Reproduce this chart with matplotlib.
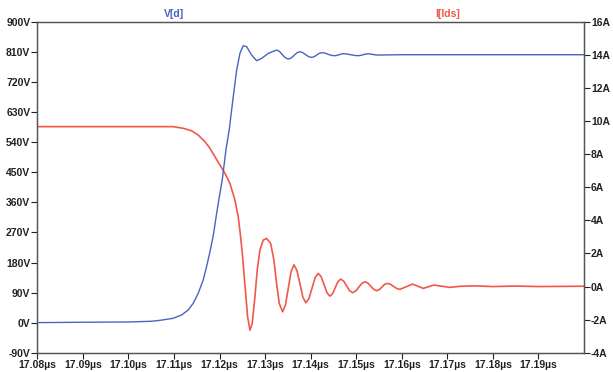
import numpy as np
import matplotlib
matplotlib.use("Agg")
import matplotlib.pyplot as plt
from matplotlib.ticker import FuncFormatter, MultipleLocator

plt.rcParams["font.family"] = ["Liberation Sans", "DejaVu Sans"]

# drain voltage V(d), time in µs
t_vd = [17.08000, 17.08900, 17.10000, 17.10500, 17.10700, 17.10984, 17.11169,
        17.11314, 17.11423, 17.11533, 17.11643, 17.11717, 17.11790, 17.11862,
        17.11937, 17.12009, 17.12060, 17.12141, 17.12213, 17.12301, 17.12376,
        17.12448, 17.12521, 17.12595, 17.12705, 17.12815, 17.12924, 17.13069,
        17.13253, 17.13317, 17.13380, 17.13444, 17.13508, 17.13572, 17.13637,
        17.13701, 17.13765, 17.13829, 17.13894, 17.13958, 17.14022, 17.14077,
        17.14131, 17.14186, 17.14241, 17.14314, 17.14387, 17.14460, 17.14533,
        17.14579, 17.14624, 17.14670, 17.14715, 17.14800, 17.14880, 17.14960,
        17.15044, 17.15100, 17.15154, 17.15210, 17.15264, 17.15448, 17.16000,
        17.20000]
vd = [0, 1, 2, 4, 7, 13, 23,
      38, 58, 88, 128, 168, 212, 260,
      327, 387, 427, 517, 577, 676, 756,
      806, 829, 826, 801, 784, 791, 806,
      816, 812, 802, 793, 789, 792, 800,
      808, 811, 808, 802, 796, 794, 796,
      801, 806, 808, 807, 803, 800, 799,
      800, 802, 804, 805, 804, 802, 800,
      799, 800, 802, 804, 805, 801, 802,
      802]

# drain-source current I(Ids)
t_ids = [17.08000, 17.10984, 17.11204, 17.11388, 17.11533, 17.11680, 17.11790,
         17.11900, 17.12009, 17.12119, 17.12229, 17.12338, 17.12411, 17.12463,
         17.12507, 17.12543, 17.12580, 17.12617, 17.12668, 17.12718, 17.12777,
         17.12828, 17.12887, 17.12959, 17.13034, 17.13122, 17.13194, 17.13253,
         17.13311, 17.13385, 17.13447, 17.13509, 17.13571, 17.13633, 17.13699,
         17.13765, 17.13830, 17.13896, 17.13964, 17.14031, 17.14099, 17.14166,
         17.14230, 17.14295, 17.14359, 17.14423, 17.14482, 17.14540, 17.14599,
         17.14658, 17.14724, 17.14790, 17.14855, 17.14921, 17.14989, 17.15056,
         17.15124, 17.15191, 17.15255, 17.15320, 17.15384, 17.15448, 17.15506,
         17.15565, 17.15623, 17.15681, 17.15751, 17.15820, 17.15890, 17.15959,
         17.16098, 17.16238, 17.16354, 17.16471, 17.16589, 17.16705, 17.16881,
         17.17056, 17.17300, 17.17600, 17.18000, 17.18500, 17.19000, 17.20000]
ids = [9.67, 9.67, 9.57, 9.42, 9.16, 8.76, 8.36,
       7.85, 7.35, 6.85, 6.24, 5.23, 4.22, 3.01,
       1.80, 0.59, -0.62, -1.83, -2.64, -2.23, -0.62,
       1.00, 2.21, 2.81, 2.91, 2.61, 1.60, 0.19,
       -1.02, -1.53, -1.12, -0.11, 0.90, 1.31, 0.98,
       0.17, -0.65, -0.98, -0.72, -0.09, 0.54, 0.80,
       0.60, 0.11, -0.38, -0.58, -0.43, -0.07, 0.30,
       0.45, 0.33, 0.04, -0.25, -0.37, -0.27, -0.04,
       0.19, 0.29, 0.21, 0.02, -0.17, -0.25, -0.19,
       -0.03, 0.13, 0.19, 0.14, 0.01, -0.12, -0.17,
       -0.01, 0.15, 0.02, -0.11, -0.01, 0.09, 0.02,
       -0.05, 0.02, 0.04, 0.00, 0.03, 0.00, 0.02]

blue = "#4a63c0"
red = "#f0584a"

fig = plt.figure(figsize=(6.13, 3.72), dpi=100)
ax = fig.add_axes([0.0608, 0.0519, 0.8919, 0.889])
ax2 = ax.twinx()

ax.plot(t_vd, vd, color=blue, lw=1.0, zorder=3)
ax2.plot(t_ids, ids, color=red, lw=1.2)
ax.set_zorder(ax2.get_zorder() + 1)
ax.patch.set_visible(False)

ax.set_xlim(17.08, 17.20)
ax.set_ylim(-90, 900)
ax2.set_ylim(-4, 16)

ax.set_xticks(np.round(np.arange(17.08, 17.195, 0.01), 2))
ax.xaxis.set_major_formatter(FuncFormatter(lambda v, p: f"{v:.2f}µs"))
ax.yaxis.set_major_locator(MultipleLocator(90))
ax.yaxis.set_major_formatter(FuncFormatter(lambda v, p: f"{v:.0f}V"))
ax2.yaxis.set_major_locator(MultipleLocator(2))
ax2.yaxis.set_major_formatter(FuncFormatter(lambda v, p: f"{v:.0f}A"))

for a in (ax, ax2):
    a.tick_params(labelsize=7.5, length=4, width=0.8, pad=1, colors="#222222")
    for lab in a.get_xticklabels() + a.get_yticklabels():
        lab.set_fontweight("bold")
    for s in a.spines.values():
        s.set_color("#555555")
        s.set_linewidth(0.9)

ax.text(0.25, 1.01, "V[d]", transform=ax.transAxes, ha="center", va="bottom",
        color=blue, fontsize=7.5, fontweight="bold")
ax.text(0.75, 1.01, "I[Ids]", transform=ax.transAxes, ha="center", va="bottom",
        color=red, fontsize=7.5, fontweight="bold")

fig.savefig("out.png", dpi=100)
